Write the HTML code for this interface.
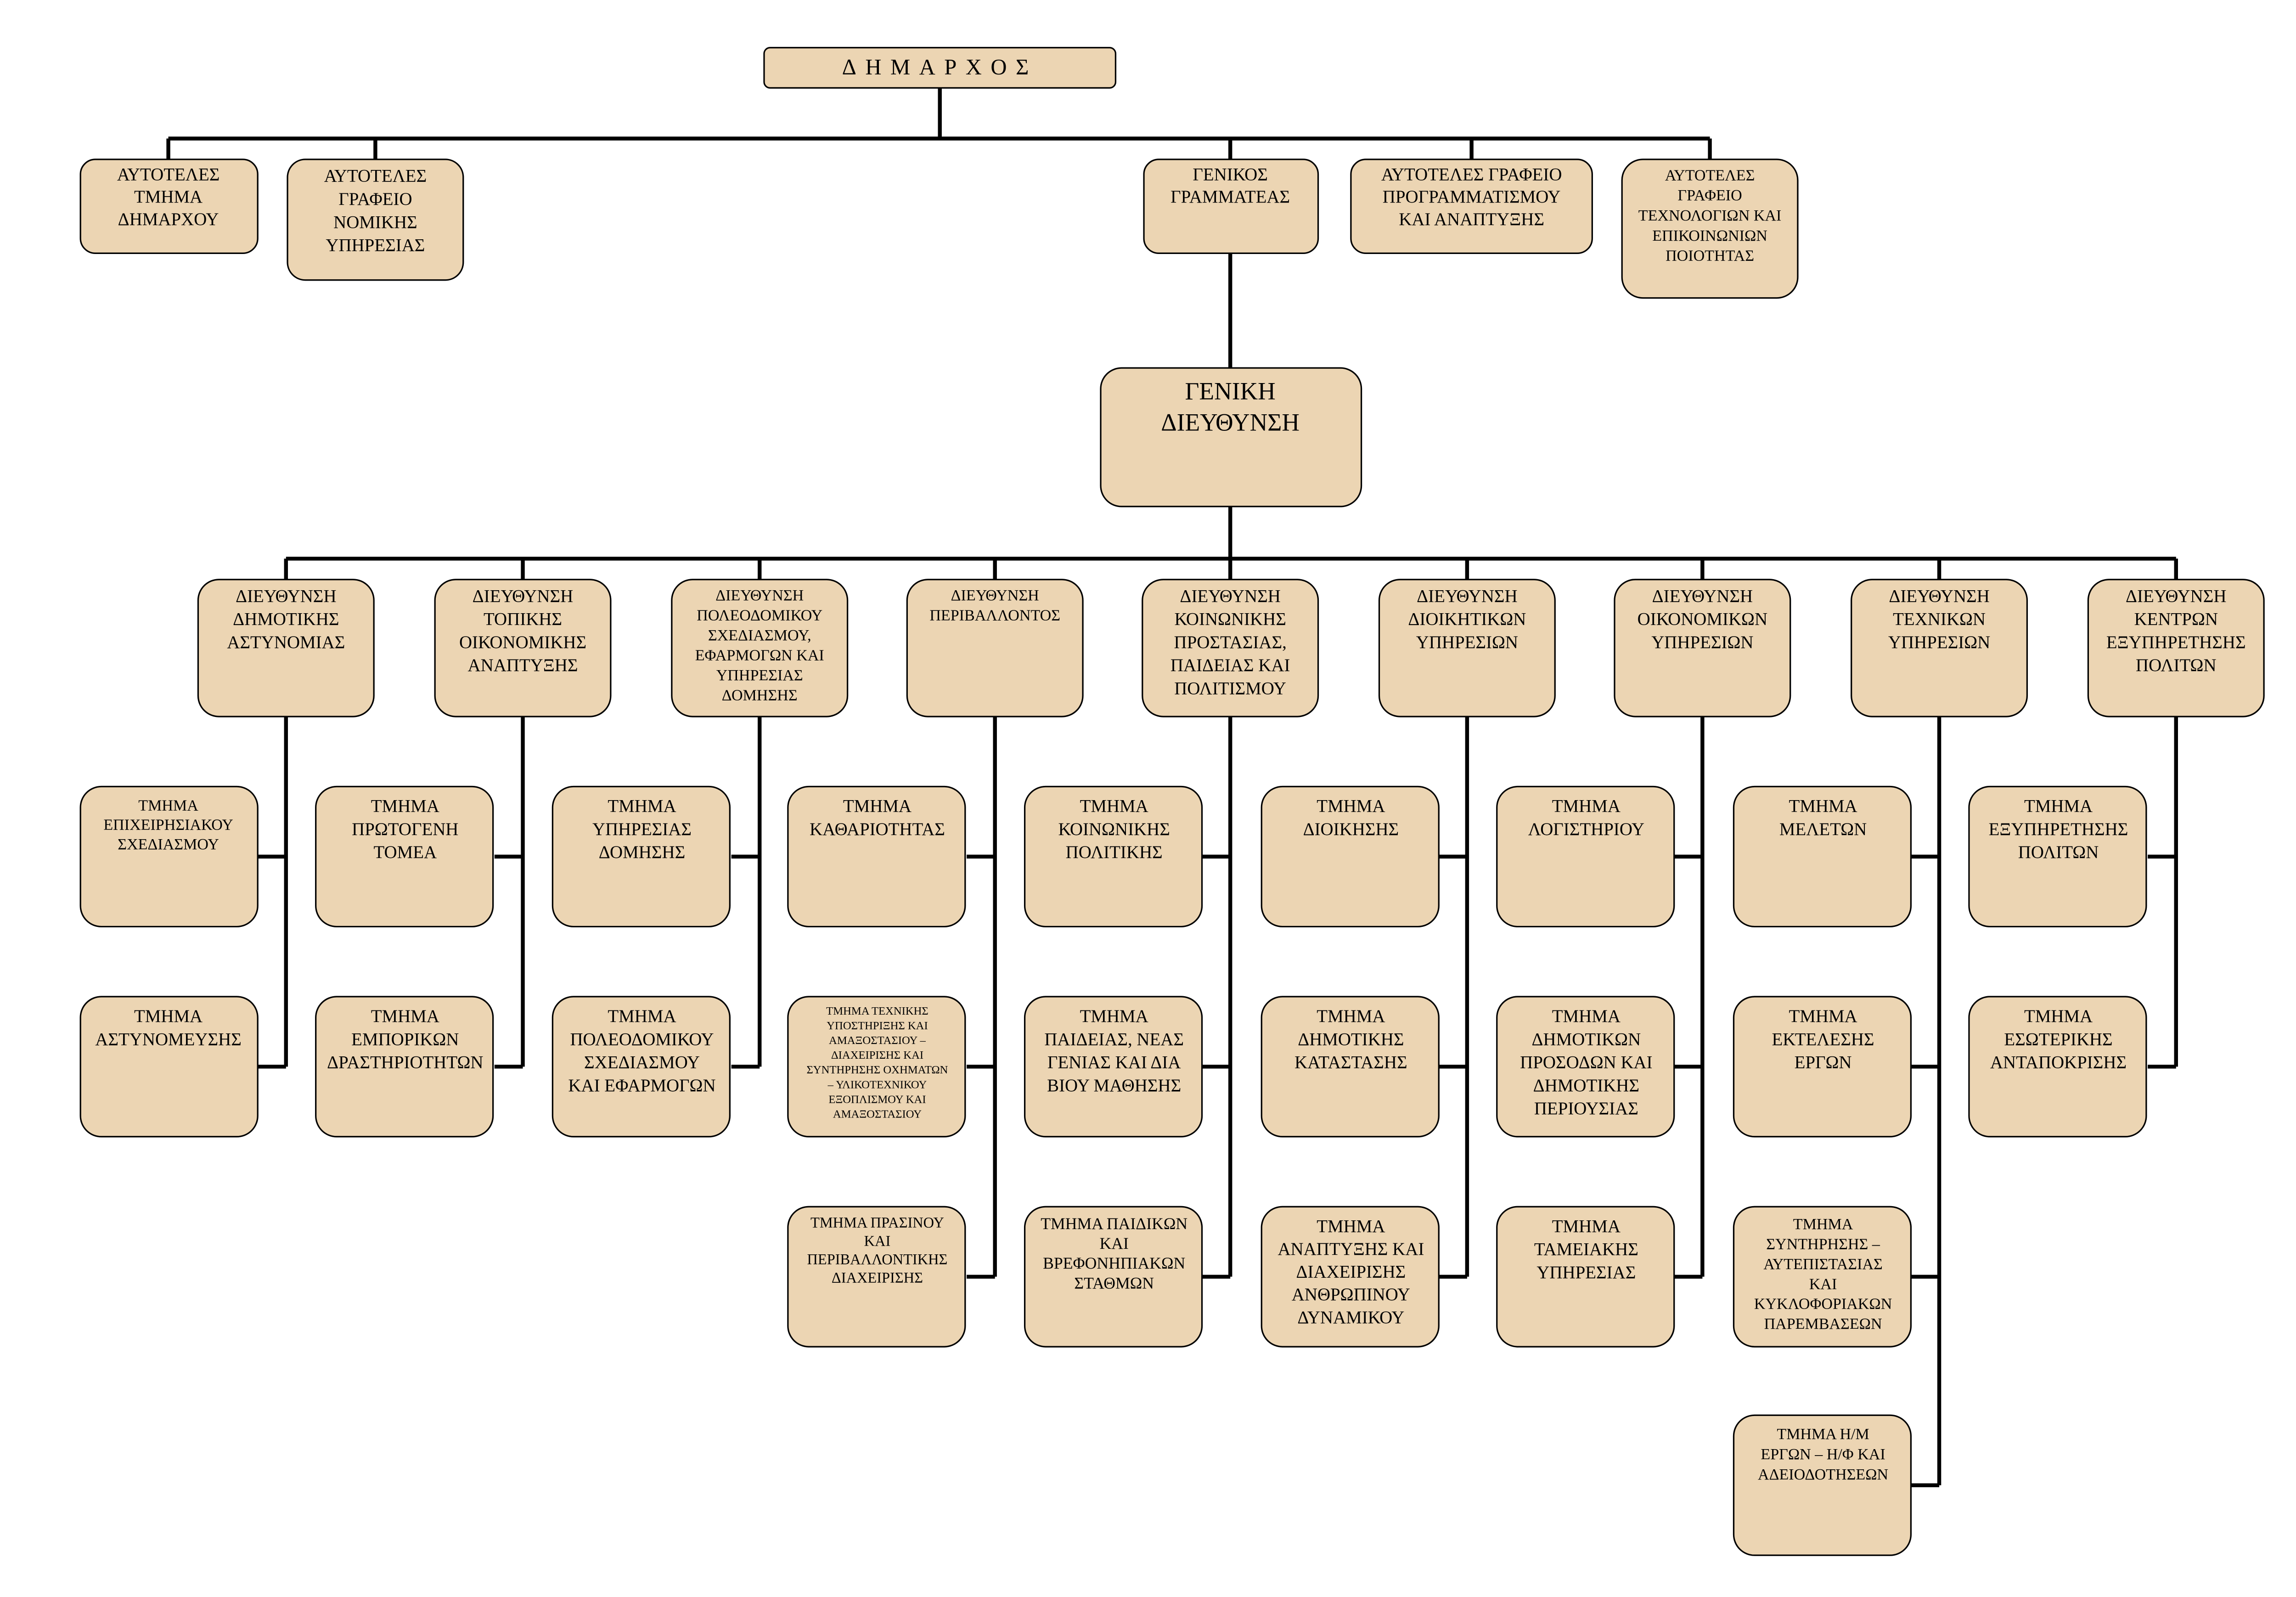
<!DOCTYPE html>
<html><head><meta charset="utf-8"><style>
html,body{margin:0;padding:0;background:#fff;width:5034px;height:3477px;overflow:hidden}
svg{display:block}
text{font-family:"Liberation Serif",serif;fill:#000;text-anchor:middle}
.b{fill:#ECD5B3;stroke:#000;stroke-width:1}
.l{stroke:#000;stroke-width:2.6;fill:none}
</style></head><body>
<svg width="5034" height="3477" viewBox="0 0 1552 1072" xmlns="http://www.w3.org/2000/svg">
<!-- connectors -->
<path class="l" d="M631 59V93M113 93H1148M113 93V107M252 93V107M826 93V107M988 93V107M1148 93V107M826 170V247M826 340V375M192 375H1461"/>
<path class="l" d="M192 375V389M351 375V389M510 375V389M668 375V389M826 375V389M985 375V389M1143 375V389M1302 375V389M1461 375V389"/>
<!-- col verticals + branches -->
<path class="l" d="M192 481V716M173 575H192M173 716H192"/>
<path class="l" d="M351 481V716M332 575H351M332 716H351"/>
<path class="l" d="M510 481V716M491 575H510M491 716H510"/>
<path class="l" d="M668 481V857M649 575H668M649 716H668M649 857H668"/>
<path class="l" d="M826 481V857M807 575H826M807 716H826M807 857H826"/>
<path class="l" d="M985 481V857M966 575H985M966 716H985M966 857H985"/>
<path class="l" d="M1143 481V857M1124 575H1143M1124 716H1143M1124 857H1143"/>
<path class="l" d="M1302 481V997M1283 575H1302M1283 716H1302M1283 857H1302M1283 997H1302"/>
<path class="l" d="M1461 481V716M1442 575H1461M1442 716H1461"/>

<!-- top -->
<rect class="b" x="513" y="32" width="236" height="27" rx="4"/>
<text x="631" y="50" font-size="15" letter-spacing="6">ΔΗΜΑΡΧΟΣ</text>

<rect class="b" x="54" y="107" width="119" height="63" rx="10"/>
<text x="113" y="121" font-size="12"><tspan x="113">ΑΥΤΟΤΕΛΕΣ</tspan><tspan x="113" dy="15">ΤΜΗΜΑ</tspan><tspan x="113" dy="15">ΔΗΜΑΡΧΟΥ</tspan></text>

<rect class="b" x="193" y="107" width="118" height="81" rx="12"/>
<text x="252" y="122" font-size="12"><tspan x="252">ΑΥΤΟΤΕΛΕΣ</tspan><tspan x="252" dy="15.5">ΓΡΑΦΕΙΟ</tspan><tspan x="252" dy="15.5">ΝΟΜΙΚΗΣ</tspan><tspan x="252" dy="15.5">ΥΠΗΡΕΣΙΑΣ</tspan></text>

<rect class="b" x="768" y="107" width="117" height="63" rx="10"/>
<text x="826" y="121" font-size="12"><tspan x="826">ΓΕΝΙΚΟΣ</tspan><tspan x="826" dy="15">ΓΡΑΜΜΑΤΕΑΣ</tspan></text>

<rect class="b" x="907" y="107" width="162" height="63" rx="10"/>
<text x="988" y="121" font-size="12"><tspan x="988">ΑΥΤΟΤΕΛΕΣ ΓΡΑΦΕΙΟ</tspan><tspan x="988" dy="15">ΠΡΟΓΡΑΜΜΑΤΙΣΜΟΥ</tspan><tspan x="988" dy="15">ΚΑΙ ΑΝΑΠΤΥΞΗΣ</tspan></text>

<rect class="b" x="1089" y="107" width="118" height="93" rx="14"/>
<text x="1148" y="121" font-size="10.5"><tspan x="1148">ΑΥΤΟΤΕΛΕΣ</tspan><tspan x="1148" dy="13.5">ΓΡΑΦΕΙΟ</tspan><tspan x="1148" dy="13.5">ΤΕΧΝΟΛΟΓΙΩΝ ΚΑΙ</tspan><tspan x="1148" dy="13.5">ΕΠΙΚΟΙΝΩΝΙΩΝ</tspan><tspan x="1148" dy="13.5">ΠΟΙΟΤΗΤΑΣ</tspan></text>

<rect class="b" x="739" y="247" width="175" height="93" rx="14"/>
<text x="826" y="268" font-size="16.5"><tspan x="826">ΓΕΝΙΚΗ</tspan><tspan x="826" dy="21">ΔΙΕΥΘΥΝΣΗ</tspan></text>

<!-- directorates -->
<g font-size="12">
<rect class="b" x="133" y="389" width="118" height="92" rx="14"/>
<text x="192" y="404"><tspan x="192">ΔΙΕΥΘΥΝΣΗ</tspan><tspan x="192" dy="15.5">ΔΗΜΟΤΙΚΗΣ</tspan><tspan x="192" dy="15.5">ΑΣΤΥΝΟΜΙΑΣ</tspan></text>
<rect class="b" x="292" y="389" width="118" height="92" rx="14"/>
<text x="351" y="404"><tspan x="351">ΔΙΕΥΘΥΝΣΗ</tspan><tspan x="351" dy="15.5">ΤΟΠΙΚΗΣ</tspan><tspan x="351" dy="15.5">ΟΙΚΟΝΟΜΙΚΗΣ</tspan><tspan x="351" dy="15.5">ΑΝΑΠΤΥΞΗΣ</tspan></text>
<rect class="b" x="451" y="389" width="118" height="92" rx="14"/>
<text x="510" y="403" font-size="10.5"><tspan x="510">ΔΙΕΥΘΥΝΣΗ</tspan><tspan x="510" dy="13.4">ΠΟΛΕΟΔΟΜΙΚΟΥ</tspan><tspan x="510" dy="13.4">ΣΧΕΔΙΑΣΜΟΥ,</tspan><tspan x="510" dy="13.4">ΕΦΑΡΜΟΓΩΝ ΚΑΙ</tspan><tspan x="510" dy="13.4">ΥΠΗΡΕΣΙΑΣ</tspan><tspan x="510" dy="13.4">ΔΟΜΗΣΗΣ</tspan></text>
<rect class="b" x="609" y="389" width="118" height="92" rx="14"/>
<text x="668" y="403" font-size="10.5"><tspan x="668">ΔΙΕΥΘΥΝΣΗ</tspan><tspan x="668" dy="13.4">ΠΕΡΙΒΑΛΛΟΝΤΟΣ</tspan></text>
<rect class="b" x="767" y="389" width="118" height="92" rx="14"/>
<text x="826" y="404"><tspan x="826">ΔΙΕΥΘΥΝΣΗ</tspan><tspan x="826" dy="15.5">ΚΟΙΝΩΝΙΚΗΣ</tspan><tspan x="826" dy="15.5">ΠΡΟΣΤΑΣΙΑΣ,</tspan><tspan x="826" dy="15.5">ΠΑΙΔΕΙΑΣ ΚΑΙ</tspan><tspan x="826" dy="15.5">ΠΟΛΙΤΙΣΜΟΥ</tspan></text>
<rect class="b" x="926" y="389" width="118" height="92" rx="14"/>
<text x="985" y="404"><tspan x="985">ΔΙΕΥΘΥΝΣΗ</tspan><tspan x="985" dy="15.5">ΔΙΟΙΚΗΤΙΚΩΝ</tspan><tspan x="985" dy="15.5">ΥΠΗΡΕΣΙΩΝ</tspan></text>
<rect class="b" x="1084" y="389" width="118" height="92" rx="14"/>
<text x="1143" y="404"><tspan x="1143">ΔΙΕΥΘΥΝΣΗ</tspan><tspan x="1143" dy="15.5">ΟΙΚΟΝΟΜΙΚΩΝ</tspan><tspan x="1143" dy="15.5">ΥΠΗΡΕΣΙΩΝ</tspan></text>
<rect class="b" x="1243" y="389" width="118" height="92" rx="14"/>
<text x="1302" y="404"><tspan x="1302">ΔΙΕΥΘΥΝΣΗ</tspan><tspan x="1302" dy="15.5">ΤΕΧΝΙΚΩΝ</tspan><tspan x="1302" dy="15.5">ΥΠΗΡΕΣΙΩΝ</tspan></text>
<rect class="b" x="1402" y="389" width="118" height="92" rx="14"/>
<text x="1461" y="404"><tspan x="1461">ΔΙΕΥΘΥΝΣΗ</tspan><tspan x="1461" dy="15.5">ΚΕΝΤΡΩΝ</tspan><tspan x="1461" dy="15.5">ΕΞΥΠΗΡΕΤΗΣΗΣ</tspan><tspan x="1461" dy="15.5">ΠΟΛΙΤΩΝ</tspan></text>
</g>

<!-- sub boxes -->
<g font-size="12">
<!-- col1 -->
<rect class="b" x="54" y="528" width="119" height="94" rx="14"/>
<text x="113" y="544" font-size="10.5"><tspan x="113">ΤΜΗΜΑ</tspan><tspan x="113" dy="13">ΕΠΙΧΕΙΡΗΣΙΑΚΟΥ</tspan><tspan x="113" dy="13">ΣΧΕΔΙΑΣΜΟΥ</tspan></text>
<rect class="b" x="54" y="669" width="119" height="94" rx="14"/>
<text x="113" y="686"><tspan x="113">ΤΜΗΜΑ</tspan><tspan x="113" dy="15.5">ΑΣΤΥΝΟΜΕΥΣΗΣ</tspan></text>
<!-- col2 -->
<rect class="b" x="212" y="528" width="119" height="94" rx="14"/>
<text x="272" y="545"><tspan x="272">ΤΜΗΜΑ</tspan><tspan x="272" dy="15.5">ΠΡΩΤΟΓΕΝΗ</tspan><tspan x="272" dy="15.5">ΤΟΜΕΑ</tspan></text>
<rect class="b" x="212" y="669" width="119" height="94" rx="14"/>
<text x="272" y="686"><tspan x="272">ΤΜΗΜΑ</tspan><tspan x="272" dy="15.5">ΕΜΠΟΡΙΚΩΝ</tspan><tspan x="272" dy="15.5">ΔΡΑΣΤΗΡΙΟΤΗΤΩΝ</tspan></text>
<!-- col3 -->
<rect class="b" x="371" y="528" width="119" height="94" rx="14"/>
<text x="431" y="545"><tspan x="431">ΤΜΗΜΑ</tspan><tspan x="431" dy="15.5">ΥΠΗΡΕΣΙΑΣ</tspan><tspan x="431" dy="15.5">ΔΟΜΗΣΗΣ</tspan></text>
<rect class="b" x="371" y="669" width="119" height="94" rx="14"/>
<text x="431" y="686"><tspan x="431">ΤΜΗΜΑ</tspan><tspan x="431" dy="15.5">ΠΟΛΕΟΔΟΜΙΚΟΥ</tspan><tspan x="431" dy="15.5">ΣΧΕΔΙΑΣΜΟΥ</tspan><tspan x="431" dy="15.5">ΚΑΙ ΕΦΑΡΜΟΓΩΝ</tspan></text>
<!-- col4 -->
<rect class="b" x="529" y="528" width="119" height="94" rx="14"/>
<text x="589" y="545"><tspan x="589">ΤΜΗΜΑ</tspan><tspan x="589" dy="15.5">ΚΑΘΑΡΙΟΤΗΤΑΣ</tspan></text>
<rect class="b" x="529" y="669" width="119" height="94" rx="14"/>
<text x="589" y="681" font-size="7.6"><tspan x="589">ΤΜΗΜΑ ΤΕΧΝΙΚΗΣ</tspan><tspan x="589" dy="9.9">ΥΠΟΣΤΗΡΙΞΗΣ ΚΑΙ</tspan><tspan x="589" dy="9.9">ΑΜΑΞΟΣΤΑΣΙΟΥ –</tspan><tspan x="589" dy="9.9">ΔΙΑΧΕΙΡΙΣΗΣ ΚΑΙ</tspan><tspan x="589" dy="9.9">ΣΥΝΤΗΡΗΣΗΣ ΟΧΗΜΑΤΩΝ</tspan><tspan x="589" dy="9.9">– ΥΛΙΚΟΤΕΧΝΙΚΟΥ</tspan><tspan x="589" dy="9.9">ΕΞΟΠΛΙΣΜΟΥ ΚΑΙ</tspan><tspan x="589" dy="9.9">ΑΜΑΞΟΣΤΑΣΙΟΥ</tspan></text>
<rect class="b" x="529" y="810" width="119" height="94" rx="14"/>
<text x="589" y="824" font-size="10"><tspan x="589">ΤΜΗΜΑ ΠΡΑΣΙΝΟΥ</tspan><tspan x="589" dy="12.3">ΚΑΙ</tspan><tspan x="589" dy="12.3">ΠΕΡΙΒΑΛΛΟΝΤΙΚΗΣ</tspan><tspan x="589" dy="12.3">ΔΙΑΧΕΙΡΙΣΗΣ</tspan></text>
<!-- col5 -->
<rect class="b" x="688" y="528" width="119" height="94" rx="14"/>
<text x="748" y="545"><tspan x="748">ΤΜΗΜΑ</tspan><tspan x="748" dy="15.5">ΚΟΙΝΩΝΙΚΗΣ</tspan><tspan x="748" dy="15.5">ΠΟΛΙΤΙΚΗΣ</tspan></text>
<rect class="b" x="688" y="669" width="119" height="94" rx="14"/>
<text x="748" y="686"><tspan x="748">ΤΜΗΜΑ</tspan><tspan x="748" dy="15.5">ΠΑΙΔΕΙΑΣ, ΝΕΑΣ</tspan><tspan x="748" dy="15.5">ΓΕΝΙΑΣ ΚΑΙ ΔΙΑ</tspan><tspan x="748" dy="15.5">ΒΙΟΥ ΜΑΘΗΣΗΣ</tspan></text>
<rect class="b" x="688" y="810" width="119" height="94" rx="14"/>
<text x="748" y="825" font-size="11"><tspan x="748">ΤΜΗΜΑ ΠΑΙΔΙΚΩΝ</tspan><tspan x="748" dy="13.3">ΚΑΙ</tspan><tspan x="748" dy="13.3">ΒΡΕΦΟΝΗΠΙΑΚΩΝ</tspan><tspan x="748" dy="13.3">ΣΤΑΘΜΩΝ</tspan></text>
<!-- col6 -->
<rect class="b" x="847" y="528" width="119" height="94" rx="14"/>
<text x="907" y="545"><tspan x="907">ΤΜΗΜΑ</tspan><tspan x="907" dy="15.5">ΔΙΟΙΚΗΣΗΣ</tspan></text>
<rect class="b" x="847" y="669" width="119" height="94" rx="14"/>
<text x="907" y="686"><tspan x="907">ΤΜΗΜΑ</tspan><tspan x="907" dy="15.5">ΔΗΜΟΤΙΚΗΣ</tspan><tspan x="907" dy="15.5">ΚΑΤΑΣΤΑΣΗΣ</tspan></text>
<rect class="b" x="847" y="810" width="119" height="94" rx="14"/>
<text x="907" y="827"><tspan x="907">ΤΜΗΜΑ</tspan><tspan x="907" dy="15.3">ΑΝΑΠΤΥΞΗΣ ΚΑΙ</tspan><tspan x="907" dy="15.3">ΔΙΑΧΕΙΡΙΣΗΣ</tspan><tspan x="907" dy="15.3">ΑΝΘΡΩΠΙΝΟΥ</tspan><tspan x="907" dy="15.3">ΔΥΝΑΜΙΚΟΥ</tspan></text>
<!-- col7 -->
<rect class="b" x="1005" y="528" width="119" height="94" rx="14"/>
<text x="1065" y="545"><tspan x="1065">ΤΜΗΜΑ</tspan><tspan x="1065" dy="15.5">ΛΟΓΙΣΤΗΡΙΟΥ</tspan></text>
<rect class="b" x="1005" y="669" width="119" height="94" rx="14"/>
<text x="1065" y="686"><tspan x="1065">ΤΜΗΜΑ</tspan><tspan x="1065" dy="15.5">ΔΗΜΟΤΙΚΩΝ</tspan><tspan x="1065" dy="15.5">ΠΡΟΣΟΔΩΝ ΚΑΙ</tspan><tspan x="1065" dy="15.5">ΔΗΜΟΤΙΚΗΣ</tspan><tspan x="1065" dy="15.5">ΠΕΡΙΟΥΣΙΑΣ</tspan></text>
<rect class="b" x="1005" y="810" width="119" height="94" rx="14"/>
<text x="1065" y="827"><tspan x="1065">ΤΜΗΜΑ</tspan><tspan x="1065" dy="15.5">ΤΑΜΕΙΑΚΗΣ</tspan><tspan x="1065" dy="15.5">ΥΠΗΡΕΣΙΑΣ</tspan></text>
<!-- col8 -->
<rect class="b" x="1164" y="528" width="119" height="94" rx="14"/>
<text x="1224" y="545"><tspan x="1224">ΤΜΗΜΑ</tspan><tspan x="1224" dy="15.5">ΜΕΛΕΤΩΝ</tspan></text>
<rect class="b" x="1164" y="669" width="119" height="94" rx="14"/>
<text x="1224" y="686"><tspan x="1224">ΤΜΗΜΑ</tspan><tspan x="1224" dy="15.5">ΕΚΤΕΛΕΣΗΣ</tspan><tspan x="1224" dy="15.5">ΕΡΓΩΝ</tspan></text>
<rect class="b" x="1164" y="810" width="119" height="94" rx="14"/>
<text x="1224" y="825" font-size="10.5"><tspan x="1224">ΤΜΗΜΑ</tspan><tspan x="1224" dy="13.4">ΣΥΝΤΗΡΗΣΗΣ –</tspan><tspan x="1224" dy="13.4">ΑΥΤΕΠΙΣΤΑΣΙΑΣ</tspan><tspan x="1224" dy="13.4">ΚΑΙ</tspan><tspan x="1224" dy="13.4">ΚΥΚΛΟΦΟΡΙΑΚΩΝ</tspan><tspan x="1224" dy="13.4">ΠΑΡΕΜΒΑΣΕΩΝ</tspan></text>
<rect class="b" x="1164" y="950" width="119" height="94" rx="14"/>
<text x="1224" y="966" font-size="10.5"><tspan x="1224">ΤΜΗΜΑ Η/Μ</tspan><tspan x="1224" dy="13.5">ΕΡΓΩΝ – Η/Φ ΚΑΙ</tspan><tspan x="1224" dy="13.5">ΑΔΕΙΟΔΟΤΗΣΕΩΝ</tspan></text>
<!-- col9 -->
<rect class="b" x="1322" y="528" width="119" height="94" rx="14"/>
<text x="1382" y="545"><tspan x="1382">ΤΜΗΜΑ</tspan><tspan x="1382" dy="15.5">ΕΞΥΠΗΡΕΤΗΣΗΣ</tspan><tspan x="1382" dy="15.5">ΠΟΛΙΤΩΝ</tspan></text>
<rect class="b" x="1322" y="669" width="119" height="94" rx="14"/>
<text x="1382" y="686"><tspan x="1382">ΤΜΗΜΑ</tspan><tspan x="1382" dy="15.5">ΕΣΩΤΕΡΙΚΗΣ</tspan><tspan x="1382" dy="15.5">ΑΝΤΑΠΟΚΡΙΣΗΣ</tspan></text>
</g>
</svg>
</body></html>
